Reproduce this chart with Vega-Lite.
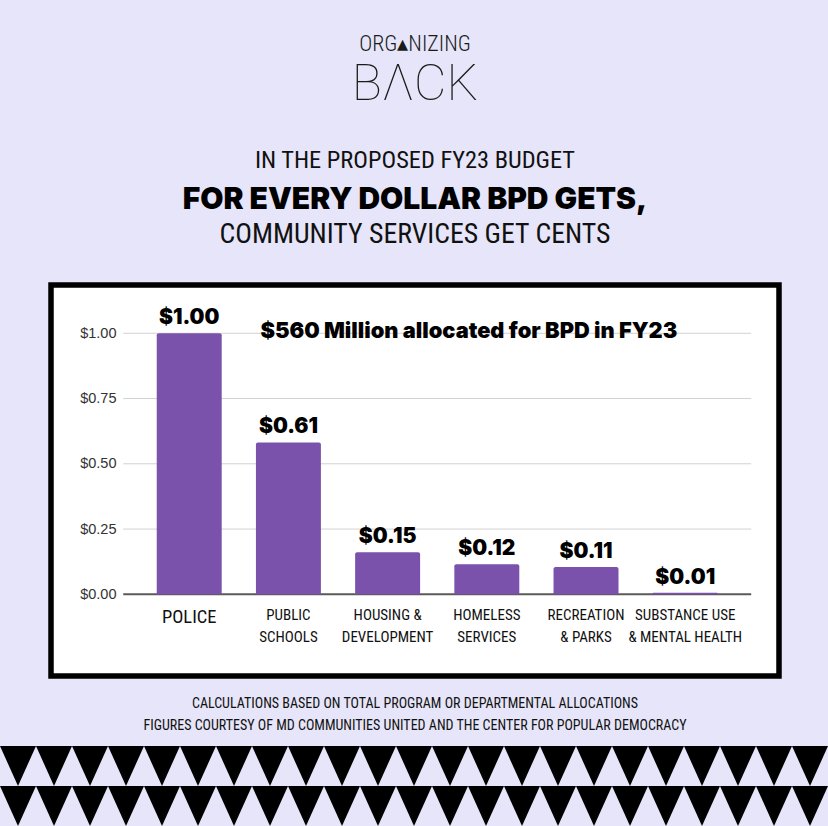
{
  "$schema": "https://vega.github.io/schema/vega-lite/v6.json",
  "width": 728,
  "height": 391,
  "autosize": {"type": "none"},
  "padding": {"left": 51, "top": 285, "right": 49, "bottom": 150},
  "background": "#e6e5f9",
  "config": {"view": {"fill": "#ffffff", "stroke": "#000000", "strokeWidth": 5.5}},
  "resolve": {"scale": {"x": "independent", "y": "independent"}},
  "layer": [
    {
      "data": {"values": [
        {"category": "POLICE", "value": 1.0, "label": "$1.00"},
        {"category": "PUBLIC|SCHOOLS", "value": 0.582, "label": "$0.61"},
        {"category": "HOUSING &|DEVELOPMENT", "value": 0.161, "label": "$0.15"},
        {"category": "HOMELESS|SERVICES", "value": 0.115, "label": "$0.12"},
        {"category": "RECREATION|& PARKS", "value": 0.105, "label": "$0.11"},
        {"category": "SUBSTANCE USE|& MENTAL HEALTH", "value": 0.006, "label": "$0.01"}
      ]},
      "layer": [
        {
          "data": {"values": [{"tick": 0}, {"tick": 0.25}, {"tick": 0.5}, {"tick": 0.75}, {"tick": 1}]},
          "mark": {"type": "rule", "xOffset": -66, "x2Offset": 66},
          "encoding": {
            "x": {"datum": "POLICE", "type": "nominal"},
            "x2": {"datum": "SUBSTANCE USE|& MENTAL HEALTH"},
            "y": {"field": "tick", "type": "quantitative"},
            "color": {"condition": {"test": "datum.tick == 0", "value": "#5a5a5a"}, "value": "#d2d2d2"},
            "strokeWidth": {"condition": {"test": "datum.tick == 0", "value": 2}, "value": 1}
          }
        },
        {
          "mark": {"type": "bar", "color": "#7b52ab", "cornerRadiusTopLeft": 2, "cornerRadiusTopRight": 2},
          "encoding": {
            "x": {
              "field": "category", "type": "nominal",
              "scale": {
                "domain": ["POLICE", "PUBLIC|SCHOOLS", "HOUSING &|DEVELOPMENT", "HOMELESS|SERVICES", "RECREATION|& PARKS", "SUBSTANCE USE|& MENTAL HEALTH"],
                "paddingInner": 0.345, "paddingOuter": 0.842, "align": 0.633
              },
              "axis": {
                "title": null, "orient": "bottom", "offset": -82,
                "domain": false, "ticks": false, "grid": false,
                "labelAngle": 0, "labelAlign": "center", "labelOverlap": false,
                "labelExpr": "split(datum.label, '|')",
                "labelFont": "Roboto Condensed, Roboto, sans-serif",
                "labelFontSize": {"condition": {"test": "datum.value === 'POLICE'", "value": 18.5}, "value": 15},
                "labelColor": "#111111", "labelBaseline": "top", "labelPadding": 13, "labelLineHeight": 22
              }
            },
            "y": {
              "field": "value", "type": "quantitative",
              "scale": {"domain": [-0.313, 1.185], "nice": false},
              "axis": {
                "title": null, "values": [0, 0.25, 0.5, 0.75, 1], "format": "$.2f",
                "offset": -69, "domain": false, "ticks": false, "grid": false,
                "labelFont": "Liberation Sans, Arial, sans-serif", "labelFontSize": 14.5,
                "labelColor": "#333333", "labelPadding": 4
              }
            },
            "y2": {"datum": 0}
          }
        },
        {
          "mark": {"type": "text", "font": "Inter, Liberation Sans, sans-serif", "fontWeight": 900, "fontSize": 21, "baseline": "alphabetic", "dy": -9, "color": "#000000"},
          "encoding": {
            "x": {"field": "category", "type": "nominal"},
            "y": {"field": "value", "type": "quantitative"},
            "text": {"field": "label"}
          }
        },
        {
          "data": {"values": [{"note": "$560 Million allocated for BPD in FY23"}]},
          "mark": {"type": "text", "font": "Inter, Liberation Sans, sans-serif", "fontWeight": 900, "fontSize": 21.8, "align": "left", "baseline": "middle", "dx": -28, "dy": -2, "color": "#000000"},
          "encoding": {
            "x": {"datum": "PUBLIC|SCHOOLS", "type": "nominal"},
            "y": {"datum": 1, "type": "quantitative"},
            "text": {"field": "note"}
          }
        },
        {
          "data": {"values": [{"t": "ORG▴NIZING"}]},
          "mark": {"type": "text", "font": "Roboto Condensed, Roboto, sans-serif", "fontWeight": 300, "fontSize": 22, "baseline": "middle", "color": "#1a1a1a"},
          "encoding": {"y": {"datum": 2.108, "type": "quantitative"}, "text": {"field": "t"}}
        },
        {
          "data": {"values": [{"t": "BΛCK"}]},
          "mark": {"type": "text", "font": "Roboto, sans-serif", "fontWeight": 100, "fontSize": 50, "baseline": "middle", "color": "#1a1a1a"},
          "encoding": {"y": {"datum": 1.952, "type": "quantitative"}, "text": {"field": "t"}}
        },
        {
          "data": {"values": [{"t": "IN THE PROPOSED FY23 BUDGET"}]},
          "mark": {"type": "text", "font": "Roboto Condensed, Roboto, sans-serif", "fontSize": 24.4, "baseline": "middle", "color": "#111111"},
          "encoding": {"y": {"datum": 1.66, "type": "quantitative"}, "text": {"field": "t"}}
        },
        {
          "data": {"values": [{"t": "FOR EVERY DOLLAR BPD GETS,"}]},
          "mark": {"type": "text", "font": "Inter, Liberation Sans, sans-serif", "fontWeight": 900, "fontSize": 30, "baseline": "middle", "color": "#000000"},
          "encoding": {"y": {"datum": 1.511, "type": "quantitative"}, "text": {"field": "t"}}
        },
        {
          "data": {"values": [{"t": "COMMUNITY SERVICES GET CENTS"}]},
          "mark": {"type": "text", "font": "Roboto Condensed, Roboto, sans-serif", "fontSize": 27.8, "baseline": "middle", "color": "#111111"},
          "encoding": {"y": {"datum": 1.377, "type": "quantitative"}, "text": {"field": "t"}}
        },
        {
          "data": {"values": [{"t": "CALCULATIONS BASED ON TOTAL PROGRAM OR DEPARTMENTAL ALLOCATIONS"}]},
          "mark": {"type": "text", "font": "Roboto Condensed, Roboto, sans-serif", "fontSize": 14, "baseline": "middle", "color": "#111111"},
          "encoding": {"y": {"datum": -0.419, "type": "quantitative"}, "text": {"field": "t"}}
        },
        {
          "data": {"values": [{"t": "FIGURES COURTESY OF MD COMMUNITIES UNITED AND THE CENTER FOR POPULAR DEMOCRACY"}]},
          "mark": {"type": "text", "font": "Roboto Condensed, Roboto, sans-serif", "fontSize": 14, "baseline": "middle", "color": "#111111"},
          "encoding": {"y": {"datum": -0.504, "type": "quantitative"}, "text": {"field": "t"}}
        }
      ]
    },
    {
      "data": {"values": [
        {"i": 0, "row": 1}, {"i": 1, "row": 1}, {"i": 2, "row": 1}, {"i": 3, "row": 1}, {"i": 4, "row": 1}, {"i": 5, "row": 1},
        {"i": 6, "row": 1}, {"i": 7, "row": 1}, {"i": 8, "row": 1}, {"i": 9, "row": 1}, {"i": 10, "row": 1}, {"i": 11, "row": 1},
        {"i": 12, "row": 1}, {"i": 13, "row": 1}, {"i": 14, "row": 1}, {"i": 15, "row": 1}, {"i": 16, "row": 1}, {"i": 17, "row": 1},
        {"i": 18, "row": 1}, {"i": 19, "row": 1}, {"i": 20, "row": 1}, {"i": 21, "row": 1}, {"i": 22, "row": 1},
        {"i": 0, "row": 2}, {"i": 1, "row": 2}, {"i": 2, "row": 2}, {"i": 3, "row": 2}, {"i": 4, "row": 2}, {"i": 5, "row": 2},
        {"i": 6, "row": 2}, {"i": 7, "row": 2}, {"i": 8, "row": 2}, {"i": 9, "row": 2}, {"i": 10, "row": 2}, {"i": 11, "row": 2},
        {"i": 12, "row": 2}, {"i": 13, "row": 2}, {"i": 14, "row": 2}, {"i": 15, "row": 2}, {"i": 16, "row": 2}, {"i": 17, "row": 2},
        {"i": 18, "row": 2}, {"i": 19, "row": 2}, {"i": 20, "row": 2}, {"i": 21, "row": 2}, {"i": 22, "row": 2}
      ]},
      "mark": {"type": "point", "shape": "M-0.9,-1L0.9,-1L0,1Z", "filled": true, "color": "#000000", "opacity": 1, "size": 1600, "strokeWidth": 0},
      "encoding": {
        "x": {"field": "i", "type": "quantitative", "scale": {"domain": [0, 22], "range": [-33, 759], "nice": false, "zero": false}, "axis": null},
        "y": {"field": "row", "type": "quantitative", "scale": {"domain": [1, 2], "range": [481, 521], "nice": false, "zero": false}, "axis": null}
      }
    }
  ]
}
